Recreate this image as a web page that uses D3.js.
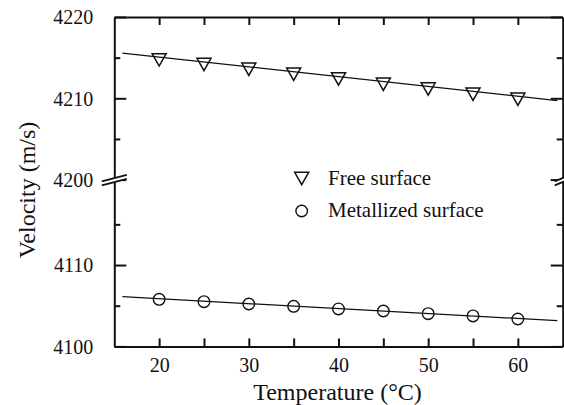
<!DOCTYPE html>
<html><head><meta charset="utf-8">
<script src="https://cdn.jsdelivr.net/npm/d3@7"></script>
<style>
html,body{margin:0;padding:0;background:#fff;}
svg text{font-family:"Liberation Serif","Times New Roman",serif !important;fill:#111;}
</style></head>
<body><svg id="chart" width="564" height="405"></svg>
<script>
// ---- data ----
const temperature = [20, 25, 30, 35, 40, 45, 50, 55, 60];
const freeSurface = [4214.73, 4214.16, 4213.58, 4212.96, 4212.38, 4211.73, 4211.15, 4210.5, 4209.88];
const metallizedSurface = [4105.79, 4105.50, 4105.21, 4104.93, 4104.60, 4104.35, 4104.02, 4103.74, 4103.37];
const fitX = [15.9, 64.4];
const fitFree = [4215.56, 4209.72];
const fitMetal = [4106.11, 4103.16];
const xTicks = [20, 30, 40, 50, 60];
const xMinorTicks = [25, 35, 45, 55];
const yUpperTicks = [4200, 4210, 4220];
const yUpperMinor = [4205, 4215];
const yLowerTicks = [4100, 4110];
const yLowerMinor = [4105, 4115];
const seriesNames = ["Free surface", "Metallized surface"];
const xTitle = "Temperature (°C)";
const yTitle = "Velocity (m/s)";

// ---- layout ----
const svg = d3.select("#chart");
const L = 114.3, R = 562.7, T = 17, B = 346.4, BRK = 179.6;
const x = d3.scaleLinear([15, 65], [L, R]);
const yUp = d3.scaleLinear([4200, 4220], [BRK, T]);
const yLo = d3.scaleLinear([4100, 4120.5], [B, BRK]);
const ink = "#111";
const serif = '"Liberation Serif","Times New Roman",serif';

function styleAxis(g, withLabels) {
  g.attr("font-family", serif);
  g.selectAll("path.domain").attr("stroke", ink).attr("stroke-width", 2);
  g.selectAll(".tick line").attr("stroke", ink).attr("stroke-width", 2);
  g.selectAll(".tick text").attr("font-size", 20).attr("fill", ink)
    .style("font-family", serif);
  if (!withLabels) g.selectAll(".tick text").remove();
}

// bottom axis
svg.append("g").attr("transform", `translate(0,${B})`)
  .call(d3.axisBottom(x).tickValues(xTicks).tickSizeInner(-8).tickSizeOuter(0).tickPadding(11).tickFormat(d3.format("d")))
  .call(g => styleAxis(g, true));
svg.append("g").attr("transform", `translate(0,${B})`)
  .call(d3.axisBottom(x).tickValues(xMinorTicks).tickSizeInner(-8).tickSizeOuter(0))
  .call(g => { styleAxis(g, false); g.select("path.domain").remove(); });
// top axis
svg.append("g").attr("transform", `translate(0,${T})`)
  .call(d3.axisTop(x).tickValues(xTicks.concat(xMinorTicks)).tickSizeInner(-8).tickSizeOuter(0))
  .call(g => styleAxis(g, false));

// y axes (two segments each side)
function yAxisPair(scale, major, minor, side) {
  const gen = side === "left" ? d3.axisLeft : d3.axisRight;
  const tx = side === "left" ? L : R;
  svg.append("g").attr("transform", `translate(${tx},0)`)
    .call(gen(scale).tickValues(major).tickSizeInner(-12).tickSizeOuter(0).tickPadding(21).tickFormat(d3.format("d")))
    .call(g => { styleAxis(g, side === "left"); g.selectAll(".tick text").attr("dy", "0.34em"); });
  svg.append("g").attr("transform", `translate(${tx},0)`)
    .call(gen(scale).tickValues(minor).tickSizeInner(-6).tickSizeOuter(0))
    .call(g => { styleAxis(g, false); g.select("path.domain").remove(); });
}
yAxisPair(yUp, yUpperTicks, yUpperMinor, "left");
yAxisPair(yLo, yLowerTicks, yLowerMinor, "left");
yAxisPair(yUp, yUpperTicks, yUpperMinor, "right");
yAxisPair(yLo, yLowerTicks, yLowerMinor, "right");

// break marks
function breakMark(cx, cy, halfW) {
  const g = svg.append("g");
  const dx = halfW, dy = 3.3, gap = 2;
  g.append("polygon")
    .attr("points", `${cx-dx},${cy+dy-gap} ${cx+dx},${cy-dy-gap} ${cx+dx},${cy-dy+gap} ${cx-dx},${cy+dy+gap}`)
    .attr("fill", "#fff");
  [-gap, gap].forEach(o => g.append("line")
    .attr("x1", cx - dx).attr("y1", cy + dy + o).attr("x2", cx + dx).attr("y2", cy - dy + o)
    .attr("stroke", ink).attr("stroke-width", 1.8));
}
breakMark(L, BRK + 0.5, 12.5);
breakMark(R, BRK + 0.5, 8);

// fit lines
const lineUp = d3.line().x(d => x(d[0])).y(d => yUp(d[1]));
const lineLo = d3.line().x(d => x(d[0])).y(d => yLo(d[1]));
svg.append("path").attr("d", lineUp(d3.zip(fitX, fitFree)))
  .attr("fill", "none").attr("stroke", ink).attr("stroke-width", 1.3);
svg.append("path").attr("d", lineLo(d3.zip(fitX, fitMetal)))
  .attr("fill", "none").attr("stroke", ink).attr("stroke-width", 1.3);

// markers
const triPath = "M-7,-6.2L7,-6.2L0,6.2Z";
svg.append("g").selectAll("path").data(d3.zip(temperature, freeSurface)).join("path")
  .attr("d", triPath)
  .attr("transform", d => `translate(${x(d[0])},${yUp(d[1])})`)
  .attr("fill", "none").attr("stroke", ink).attr("stroke-width", 1.5);
svg.append("g").selectAll("circle").data(d3.zip(temperature, metallizedSurface)).join("circle")
  .attr("cx", d => x(d[0])).attr("cy", d => yLo(d[1])).attr("r", 5.8)
  .attr("fill", "none").attr("stroke", ink).attr("stroke-width", 1.4);

// legend
const lg = svg.append("g");
lg.append("path").attr("d", triPath).attr("transform", "translate(301.7,178.5)")
  .attr("fill", "none").attr("stroke", ink).attr("stroke-width", 1.5);
lg.append("circle").attr("cx", 301.7).attr("cy", 211).attr("r", 5.8)
  .attr("fill", "none").attr("stroke", ink).attr("stroke-width", 1.4);
lg.append("text").attr("x", 328).attr("y", 184.5).attr("font-size", 21).text(seriesNames[0]);
lg.append("text").attr("x", 328).attr("y", 217).attr("font-size", 21).text(seriesNames[1]);

// axis titles
svg.append("text").attr("x", (L + R) / 2 - 1).attr("y", 399.5).attr("text-anchor", "middle")
  .attr("font-size", 24).text(xTitle);
svg.append("text").attr("transform", "translate(35,190) rotate(-90)").attr("text-anchor", "middle")
  .attr("font-size", 24).text(yTitle);
</script></body></html>
